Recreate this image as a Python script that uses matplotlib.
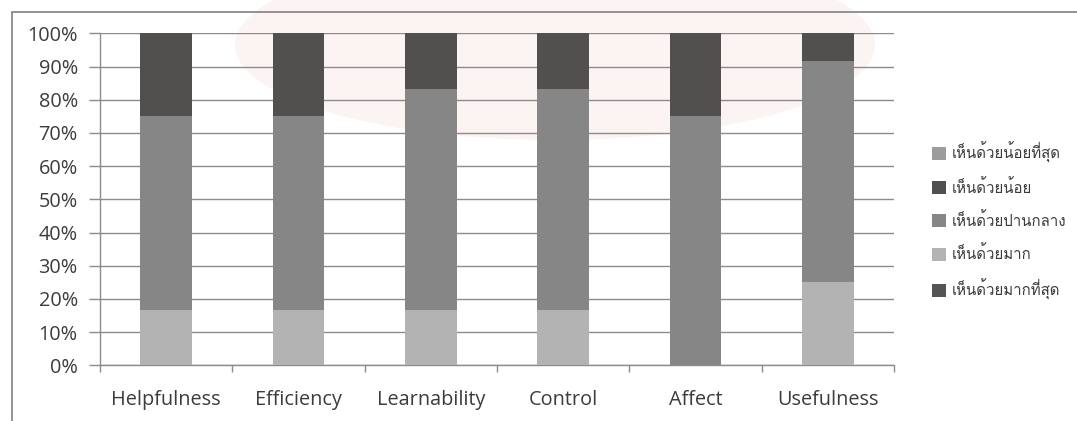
import matplotlib
matplotlib.use("Agg")
import matplotlib.pyplot as plt
import numpy as np
from matplotlib.patches import Rectangle, Ellipse, Patch

# Survey results (percent of respondents) per usability dimension
categories = ["Helpfulness", "Efficiency", "Learnability", "Control", "Affect", "Usefulness"]
strongly_agree = [0, 0, 0, 0, 0, 0]               # เห็นด้วยมากที่สุด
agree = [16.7, 16.7, 16.7, 16.7, 0, 25.0]          # เห็นด้วยมาก
neutral = [58.3, 58.3, 66.6, 66.6, 75.0, 66.7]     # เห็นด้วยปานกลาง
disagree = [25.0, 25.0, 16.7, 16.7, 25.0, 8.3]     # เห็นด้วยน้อย
strongly_disagree = [0, 0, 0, 0, 0, 0]             # เห็นด้วยน้อยที่สุด

series_labels = ["เห็นด้วยมากที่สุด", "เห็นด้วยมาก", "เห็นด้วยปานกลาง",
                 "เห็นด้วยน้อย", "เห็นด้วยน้อยที่สุด"]
y_ticks = [0, 10, 20, 30, 40, 50, 60, 70, 80, 90, 100]

series = [strongly_agree, agree, neutral, disagree, strongly_disagree]
colors = ["#565353", "#b3b3b3", "#868686", "#524f4f", "#9c9c9c"]

LATIN = ["Open Sans", "DejaVu Sans"]
THAI = ["Loma", "Noto Sans Thai Looped", "DejaVu Sans"]
TEXT = "#3c3c3c"

fig = plt.figure(figsize=(10.77, 4.21), dpi=100)

# faint background seal
bg = fig.add_axes([0, 0, 1, 1], zorder=-5)
bg.set_xlim(0, 1077)
bg.set_ylim(421, 0)
bg.axis("off")
bg.add_patch(Ellipse((555, 45), 640, 190, color="#fcf3f3", lw=0))

# chart area border
fig.patches.append(Rectangle((11.5 / 1077, -0.2), 1.2, 1.2 - 11.5 / 421,
                             transform=fig.transFigure, fill=False,
                             edgecolor="#8a8a8a", lw=1.3))

ax = fig.add_axes([100 / 1077, 1 - 365.3 / 421, 794 / 1077, 332 / 421])
ax.patch.set_alpha(0)

x = np.arange(len(categories))
bottom = np.zeros(len(categories))
handles = []
for vals, col, lab in zip(series, colors, series_labels):
    v = np.array(vals, dtype=float)
    ax.bar(x, v, bottom=bottom, width=0.39, color=col, lw=0, zorder=3)
    bottom += v
    handles.append(Patch(facecolor=col, label=lab))

ax.set_xlim(-0.5, len(categories) - 0.5)
ax.set_ylim(0, 100)
ax.set_yticks(y_ticks)
ax.set_yticklabels([f"{t}%" for t in y_ticks], family=LATIN, fontsize=14.3, color=TEXT)
ax.yaxis.grid(True, color="#8c8c8c", lw=1.0, zorder=0)
ax.set_axisbelow(True)

ax.set_xticks(x)
ax.set_xticklabels(categories, family=LATIN, fontsize=14.3, color=TEXT)
ax.set_xticks(np.arange(-0.5, len(categories)), minor=True)
ax.tick_params(axis="x", which="major", length=0, pad=18)
ax.tick_params(axis="x", which="minor", length=5, color="#8c8c8c", width=1)
ax.tick_params(axis="y", length=8, color="#8c8c8c", width=1, pad=8)

for s in ["top", "right"]:
    ax.spines[s].set_visible(False)
for s in ["left", "bottom"]:
    ax.spines[s].set_color("#8c8c8c")
    ax.spines[s].set_linewidth(1.0)

leg = fig.legend(handles=handles[::-1], loc="upper left",
                 bbox_to_anchor=(918 / 1077, 1 - 128 / 421),
                 frameon=False, handlelength=0.95, handleheight=0.95,
                 handletextpad=0.4, labelspacing=1.08,
                 prop={"family": THAI, "size": 10.8})
for t in leg.get_texts():
    t.set_color(TEXT)

fig.savefig("out.png", dpi=100)
